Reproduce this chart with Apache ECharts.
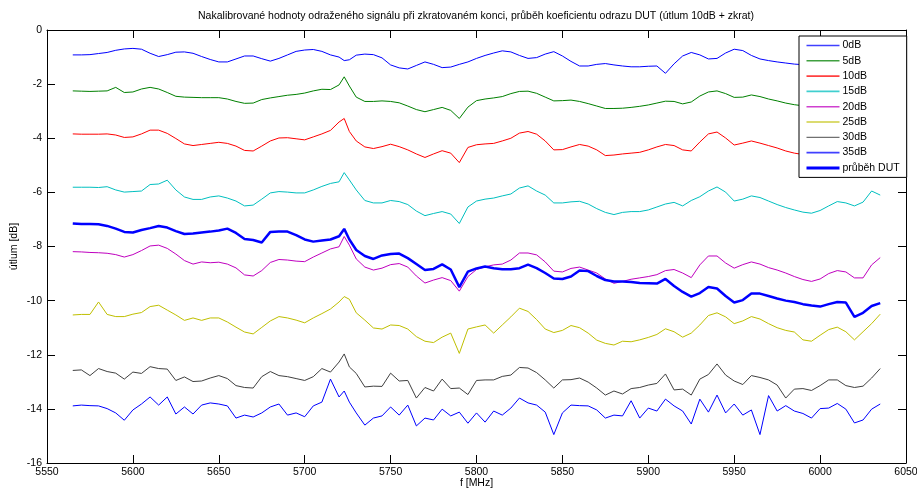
<!DOCTYPE html>
<html>
<head>
<meta charset="utf-8">
<script src="https://cdn.jsdelivr.net/npm/echarts@6/dist/echarts.min.js"></script>
<style>html,body{margin:0;padding:0;background:#fff;}#c{width:917px;height:491px;}</style>
</head>
<body>
<div id="c"></div>
<script>
// frequencies [MHz]
const freq = [
  5565,5570,5575,5580,5585,5590,5595,5600,5605,5610,
  5615,5620,5625,5630,5635,5640,5645,5650,5655,5660,
  5665,5670,5675,5680,5685,5690,5695,5700,5705,5710,
  5715,5720,5723,5726,
  5730,5735,5740,5745,5750,5755,5760,5765,5770,5775,
  5780,5785,5790,5795,5800,5805,5810,5815,5820,5825,
  5830,5835,5840,5845,5850,5855,5860,5865,5870,5875,
  5880,5885,5890,5895,5900,5905,5910,5915,5920,5925,
  5930,5935,5940,5945,5950,5955,5960,5965,5970,5975,
  5980,5985,5990,5995,6000,6005,6010,6015,6020,6025,
  6030,6035
];
const att0 = [
  -0.92,-0.92,-0.91,-0.87,-0.83,-0.75,-0.70,-0.68,-0.71,-0.86,
  -0.98,-0.91,-0.82,-0.81,-0.86,-0.98,-1.09,-1.18,-1.18,-1.07,
  -0.96,-0.96,-1.06,-1.15,-1.05,-0.92,-0.79,-0.74,-0.72,-0.79,
  -0.92,-1.00,-1.13,-1.10,
  -0.93,-0.89,-0.91,-1.03,-1.29,-1.40,-1.44,-1.31,-1.18,-1.27,
  -1.39,-1.37,-1.27,-1.18,-1.05,-0.94,-0.85,-0.77,-0.81,-0.94,
  -1.05,-1.02,-0.89,-0.80,-0.96,-1.16,-1.33,-1.33,-1.27,-1.24,
  -1.29,-1.33,-1.36,-1.36,-1.34,-1.33,-1.60,-1.25,-0.96,-0.83,
  -0.92,-1.07,-1.05,-0.85,-0.71,-0.76,-0.94,-1.07,-1.13,-1.18,
  -1.22,-1.26,-1.28,-1.30,-1.30,-1.28,-1.25,-1.25,-1.27,-1.30,
  -1.30,-1.28
];
const att5 = [
  -2.25,-2.26,-2.27,-2.26,-2.25,-2.12,-2.31,-2.29,-2.18,-2.12,
  -2.18,-2.31,-2.45,-2.48,-2.49,-2.50,-2.50,-2.50,-2.55,-2.64,
  -2.71,-2.70,-2.57,-2.51,-2.46,-2.41,-2.38,-2.33,-2.25,-2.19,
  -2.20,-2.03,-1.73,-2.07,
  -2.48,-2.64,-2.64,-2.62,-2.64,-2.69,-2.81,-2.94,-3.02,-2.94,
  -2.86,-2.97,-3.27,-2.85,-2.61,-2.55,-2.51,-2.46,-2.35,-2.27,
  -2.26,-2.34,-2.48,-2.62,-2.61,-2.59,-2.64,-2.72,-2.81,-2.90,
  -2.90,-2.89,-2.86,-2.82,-2.77,-2.70,-2.63,-2.64,-2.73,-2.66,
  -2.44,-2.29,-2.25,-2.35,-2.49,-2.48,-2.40,-2.46,-2.55,-2.62,
  -2.70,-2.76,-2.80,-2.80,-2.85,-2.85,-2.80,-2.75,-2.70,-2.70,
  -2.70,-2.70
];
const att10 = [
  -3.84,-3.85,-3.85,-3.85,-3.84,-3.88,-3.97,-3.95,-3.84,-3.70,
  -3.70,-3.82,-4.01,-4.21,-4.27,-4.23,-4.19,-4.15,-4.19,-4.29,
  -4.45,-4.47,-4.29,-4.10,-3.99,-3.98,-4.02,-4.06,-3.95,-3.84,
  -3.71,-3.40,-3.27,-3.75,
  -4.10,-4.32,-4.38,-4.31,-4.22,-4.31,-4.43,-4.58,-4.71,-4.58,
  -4.46,-4.55,-4.90,-4.34,-4.24,-4.21,-4.19,-4.10,-4.00,-3.81,
  -3.75,-3.85,-4.10,-4.43,-4.42,-4.32,-4.23,-4.29,-4.43,-4.64,
  -4.62,-4.58,-4.55,-4.52,-4.43,-4.32,-4.23,-4.27,-4.43,-4.47,
  -4.14,-3.84,-3.77,-3.99,-4.25,-4.18,-4.10,-4.18,-4.27,-4.36,
  -4.47,-4.55,-4.60,-4.60,-4.60,-4.55,-4.50,-4.45,-4.40,-4.40,
  -4.45,-4.50
];
const att15 = [
  -5.81,-5.81,-5.81,-5.82,-5.79,-5.91,-5.99,-5.97,-5.95,-5.71,
  -5.69,-5.55,-5.91,-6.17,-6.26,-6.26,-6.17,-6.13,-6.21,-6.32,
  -6.50,-6.47,-6.25,-6.02,-5.97,-5.99,-6.02,-6.02,-5.91,-5.78,
  -5.67,-5.61,-5.27,-5.54,
  -5.91,-6.30,-6.39,-6.39,-6.30,-6.34,-6.45,-6.69,-6.86,-6.78,
  -6.71,-6.80,-7.15,-6.54,-6.32,-6.25,-6.21,-6.13,-6.06,-5.84,
  -5.76,-5.95,-6.10,-6.39,-6.39,-6.35,-6.33,-6.43,-6.60,-6.74,
  -6.82,-6.74,-6.71,-6.71,-6.65,-6.54,-6.43,-6.37,-6.50,-6.30,
  -6.16,-5.95,-5.80,-5.99,-6.32,-6.25,-6.13,-6.19,-6.32,-6.45,
  -6.56,-6.65,-6.73,-6.77,-6.67,-6.50,-6.34,-6.39,-6.50,-6.36,
  -5.95,-6.10
];
const att20 = [
  -8.19,-8.20,-8.22,-8.23,-8.25,-8.30,-8.39,-8.30,-8.15,-7.98,
  -7.95,-8.07,-8.28,-8.52,-8.65,-8.57,-8.60,-8.58,-8.65,-8.79,
  -9.05,-9.09,-8.89,-8.59,-8.48,-8.50,-8.54,-8.56,-8.39,-8.24,
  -8.09,-8.01,-7.63,-7.95,
  -8.46,-8.76,-8.87,-8.80,-8.67,-8.63,-8.76,-9.09,-9.35,-9.24,
  -9.15,-9.26,-9.65,-9.11,-8.85,-8.75,-8.68,-8.65,-8.50,-8.24,
  -8.24,-8.31,-8.57,-8.91,-8.94,-8.81,-8.76,-8.87,-8.98,-9.20,
  -9.36,-9.29,-9.21,-9.16,-9.11,-9.04,-8.89,-8.85,-8.98,-9.15,
  -8.68,-8.35,-8.35,-8.61,-8.80,-8.67,-8.57,-8.65,-8.78,-8.87,
  -8.98,-9.11,-9.22,-9.29,-9.20,-9.00,-8.89,-8.94,-9.16,-9.16,
  -8.68,-8.41
];
const att25 = [
  -10.53,-10.51,-10.51,-10.05,-10.51,-10.59,-10.59,-10.50,-10.44,-10.22,
  -10.17,-10.35,-10.53,-10.73,-10.64,-10.73,-10.64,-10.64,-10.79,-10.98,
  -11.16,-11.23,-10.99,-10.75,-10.59,-10.64,-10.72,-10.82,-10.64,-10.48,
  -10.31,-10.05,-9.85,-9.95,
  -10.45,-10.72,-11.01,-11.05,-10.90,-10.92,-11.05,-11.33,-11.50,-11.55,
  -11.35,-11.20,-11.95,-11.05,-10.97,-10.90,-11.20,-10.90,-10.60,-10.28,
  -10.40,-10.70,-11.05,-11.18,-11.10,-10.92,-11.00,-11.20,-11.46,-11.58,
  -11.64,-11.50,-11.52,-11.45,-11.36,-11.25,-11.04,-11.15,-11.35,-11.20,
  -10.90,-10.55,-10.45,-10.60,-10.85,-10.75,-10.59,-10.68,-10.85,-11.00,
  -11.10,-11.16,-11.45,-11.50,-11.28,-11.07,-10.98,-11.15,-11.45,-11.15,
  -10.85,-10.50
];
const att30 = [
  -12.58,-12.56,-12.77,-12.51,-12.62,-12.68,-12.90,-12.64,-12.69,-12.44,
  -12.51,-12.53,-12.95,-12.82,-12.99,-12.97,-12.86,-12.77,-12.88,-13.14,
  -13.21,-13.23,-12.81,-12.62,-12.77,-12.81,-12.88,-12.95,-12.81,-12.51,
  -12.64,-12.27,-11.97,-12.45,
  -12.69,-13.19,-13.16,-13.17,-12.68,-12.97,-12.95,-13.60,-13.21,-13.34,
  -12.90,-13.25,-13.23,-13.47,-12.95,-12.93,-12.93,-12.80,-12.75,-12.47,
  -12.49,-12.66,-12.93,-13.23,-12.93,-12.92,-12.86,-13.01,-13.23,-13.49,
  -13.34,-13.45,-13.25,-13.21,-13.12,-13.06,-12.71,-13.30,-13.27,-13.49,
  -12.90,-12.73,-12.34,-12.75,-12.97,-13.10,-12.77,-12.84,-12.93,-13.12,
  -13.60,-13.27,-13.25,-13.32,-13.14,-12.93,-12.93,-13.14,-13.21,-13.16,
  -12.86,-12.51
];
const att35 = [
  -13.89,-13.86,-13.88,-13.89,-13.99,-14.15,-14.42,-14.04,-13.82,-13.56,
  -13.86,-13.56,-14.19,-13.93,-14.19,-13.86,-13.78,-13.82,-13.89,-14.34,
  -14.23,-14.30,-14.15,-13.93,-13.82,-14.23,-14.15,-14.29,-13.89,-13.75,
  -12.90,-13.56,-13.34,-13.75,
  -14.15,-14.60,-14.34,-14.26,-13.93,-14.23,-13.86,-14.63,-14.34,-14.41,
  -14.01,-14.26,-14.12,-14.53,-14.15,-14.49,-14.08,-14.23,-13.97,-13.60,
  -13.78,-13.86,-14.12,-14.95,-14.15,-13.86,-13.88,-13.89,-14.04,-14.34,
  -14.23,-14.26,-13.70,-14.34,-13.97,-14.08,-13.64,-13.89,-14.08,-14.56,
  -13.64,-14.12,-13.49,-14.15,-13.82,-14.23,-14.04,-14.95,-13.51,-14.08,
  -13.88,-14.08,-14.17,-14.34,-13.99,-13.97,-13.80,-14.01,-14.52,-14.41,
  -14.01,-13.82
];
const attDUT = [
  -7.15,-7.17,-7.17,-7.18,-7.24,-7.34,-7.46,-7.48,-7.39,-7.32,
  -7.24,-7.30,-7.43,-7.54,-7.52,-7.48,-7.45,-7.41,-7.34,-7.50,
  -7.72,-7.76,-7.85,-7.46,-7.45,-7.45,-7.58,-7.74,-7.82,-7.78,
  -7.74,-7.62,-7.35,-7.74,
  -8.13,-8.35,-8.46,-8.33,-8.28,-8.26,-8.43,-8.65,-8.87,-8.83,
  -8.66,-8.85,-9.50,-8.93,-8.81,-8.74,-8.80,-8.84,-8.84,-8.80,
  -8.67,-8.80,-8.98,-9.18,-9.20,-9.11,-8.89,-8.91,-9.09,-9.24,
  -9.29,-9.29,-9.31,-9.35,-9.36,-9.37,-9.20,-9.46,-9.68,-9.85,
  -9.72,-9.50,-9.55,-9.83,-10.07,-9.98,-9.74,-9.74,-9.83,-9.92,
  -10.00,-10.05,-10.13,-10.18,-10.22,-10.13,-10.05,-10.07,-10.60,-10.45,
  -10.20,-10.09
];
const seriesNames = ['0dB','5dB','10dB','15dB','20dB','25dB','30dB','35dB','průběh DUT'];
const seriesValues = [att0, att5, att10, att15, att20, att25, att30, att35, attDUT];
const seriesColors = ['#0000ff','#008000','#ff0000','#00bfbf','#bf00bf','#bfbf00','#404040','#0000ff','#0000ff'];
const seriesWidths = [1,1,1,1,1,1,1,1,2.5];
const legendWidths = [1.6,1.6,1.6,1.6,1.6,1.6,1.2,1.6,3];

const FONT = 'Liberation Sans, Arial, sans-serif';
const chart = echarts.init(document.getElementById('c'), null, {renderer:'canvas'});

const axisCommon = {
  type:'value',
  axisLine:{onZero:false, lineStyle:{color:'#000', width:1}},
  axisTick:{inside:true, length:8, lineStyle:{color:'#000', width:1}},
  splitLine:{show:false}
};

chart.setOption({
  animation:false,
  backgroundColor:'#fff',
  title:{
    text:'Nakalibrované hodnoty odraženého signálu při zkratovaném konci, průběh koeficientu odrazu DUT (útlum 10dB + zkrat)',
    left:476, top:11, textAlign:'center', padding:0,
    textStyle:{fontSize:10.5, fontWeight:'normal', color:'#000', fontFamily:FONT}
  },
  grid:{left:47, right:11, top:30, bottom:28, containLabel:false, outerBoundsMode:'none'},
  legend:{
    data: seriesNames.map((n, k) => ({
      name:n,
      lineStyle:{color:seriesColors[k], width:legendWidths[k], opacity:k === 8 ? 1 : 0.75}
    })),
    orient:'vertical',
    left:799, top:36,
    backgroundColor:'#fff',
    borderColor:'#000', borderWidth:1, borderRadius:0,
    padding:[4,7,4,6],
    itemWidth:33, itemHeight:11, itemGap:4.3,
    itemStyle:{opacity:0, color:'rgba(0,0,0,0)', borderWidth:0},
    textStyle:{fontSize:10.5, color:'#000', fontFamily:FONT, padding:[0,0,0,-2]}
  },
  xAxis:[
    Object.assign({}, axisCommon, {
      position:'bottom', min:5550, max:6050, interval:50,
      axisLabel:{margin:4, color:'#000', fontSize:10.5, fontFamily:FONT, formatter:(v) => String(v)},
      name:'f [MHz]', nameLocation:'middle', nameGap:15, nameMoveOverlap:false,
      nameTextStyle:{fontSize:10.5, color:'#000', fontFamily:FONT}
    }),
    Object.assign({}, axisCommon, {
      position:'top', min:5550, max:6050, interval:50,
      axisLabel:{show:false}
    })
  ],
  yAxis:[
    Object.assign({}, axisCommon, {
      position:'left', min:-16, max:0, interval:2,
      axisLabel:{margin:5, color:'#000', fontSize:10.5, fontFamily:FONT, formatter:(v) => String(v)},
      name:'útlum [dB]', nameLocation:'middle', nameGap:27, nameRotate:90, nameMoveOverlap:false,
      nameTextStyle:{fontSize:10.5, color:'#000', fontFamily:FONT}
    }),
    Object.assign({}, axisCommon, {
      position:'right', min:-16, max:0, interval:2,
      axisLabel:{show:false}
    })
  ],
  series: seriesNames.map((name, k) => ({
    name: name,
    type:'line',
    xAxisIndex:0, yAxisIndex:0,
    symbol:'none', showSymbol:false,
    data: freq.map((f, i) => [f, seriesValues[k][i]]),
    lineStyle:{color:seriesColors[k], width:seriesWidths[k]},
    itemStyle:{color:seriesColors[k]},
    emphasis:{disabled:true},
    z: k === 8 ? 3 : 2
  }))
});
</script>
</body>
</html>
